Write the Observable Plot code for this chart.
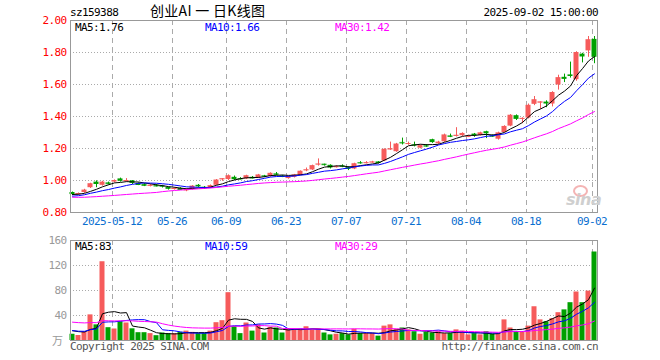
<!DOCTYPE html>
<html><head><meta charset="utf-8">
<script src="https://cdn.jsdelivr.net/npm/d3@7"></script>
<script src="https://cdn.jsdelivr.net/npm/@observablehq/plot@0.6"></script>
<style>
body{margin:0;background:#fff;}
#c{position:relative;width:660px;height:360px;overflow:hidden;font-family:"DejaVu Sans Mono",monospace;font-size:11px;letter-spacing:-0.6px;color:#000;}
#c svg{position:absolute;left:0;}
.t{position:absolute;white-space:nowrap;line-height:12px;}
</style></head><body><div id="c"></div>
<script>
const dates = ["04-28","04-29","04-30","05-06","05-07","05-08","05-09","05-12","05-13","05-14",
"05-15","05-16","05-19","05-20","05-21","05-22","05-23","05-26","05-27","05-28",
"05-29","05-30","06-03","06-04","06-05","06-06","06-09","06-10","06-11","06-12",
"06-13","06-16","06-17","06-18","06-19","06-20","06-23","06-24","06-25","06-26",
"06-27","06-30","07-01","07-02","07-03","07-04","07-07","07-08","07-09","07-10",
"07-11","07-14","07-15","07-16","07-17","07-18","07-21","07-22","07-23","07-24",
"07-25","07-28","07-29","07-30","07-31","08-01","08-04","08-05","08-06","08-07",
"08-08","08-11","08-12","08-13","08-14","08-15","08-18","08-19","08-20","08-21",
"08-22","08-25","08-26","08-27","08-28","08-29","09-01","09-02"];
const open = [0.925,0.912,0.925,0.955,0.990,0.970,0.985,0.990,1.010,0.995,
0.998,0.982,0.976,0.965,0.971,0.966,0.956,0.945,0.950,0.935,
0.945,0.970,0.958,0.955,0.970,1.006,1.006,1.020,1.012,1.010,
1.020,1.015,1.030,1.025,1.042,1.028,1.012,1.020,1.032,1.063,
1.066,1.100,1.102,1.095,1.083,1.092,1.082,1.072,1.112,1.108,
1.112,1.116,1.122,1.193,1.180,1.238,1.228,1.224,1.202,1.218,
1.255,1.230,1.242,1.279,1.278,1.280,1.273,1.290,1.282,1.305,
1.280,1.258,1.300,1.340,1.405,1.385,1.390,1.476,1.486,1.490,
1.478,1.597,1.645,1.660,1.630,1.790,1.810,1.882];
const close = [0.912,0.918,0.940,0.980,0.975,0.990,0.980,1.000,0.995,1.000,
0.982,0.975,0.970,0.970,0.966,0.958,0.945,0.950,0.944,0.945,
0.965,0.960,0.955,0.968,1.003,1.010,1.030,1.005,1.010,1.030,
1.016,1.035,1.028,1.045,1.039,1.025,1.022,1.035,1.058,1.066,
1.093,1.102,1.099,1.078,1.086,1.089,1.076,1.105,1.110,1.111,
1.115,1.106,1.195,1.197,1.228,1.235,1.231,1.221,1.218,1.215,
1.237,1.240,1.285,1.276,1.282,1.294,1.276,1.280,1.298,1.292,
1.277,1.298,1.338,1.408,1.382,1.388,1.470,1.505,1.490,1.478,
1.550,1.643,1.632,1.650,1.800,1.772,1.880,1.770];
const high = [0.928,0.922,0.945,0.983,0.998,0.995,0.990,1.004,1.015,1.012,
1.000,0.985,0.980,0.975,0.975,0.970,0.958,0.955,0.955,0.948,
0.968,0.975,0.962,0.972,1.006,1.012,1.035,1.028,1.018,1.033,
1.025,1.038,1.032,1.048,1.050,1.032,1.026,1.038,1.060,1.078,
1.096,1.135,1.102,1.098,1.092,1.098,1.086,1.108,1.118,1.118,
1.120,1.118,1.198,1.240,1.232,1.265,1.240,1.240,1.222,1.225,
1.258,1.245,1.290,1.290,1.330,1.298,1.282,1.294,1.302,1.308,
1.285,1.302,1.342,1.412,1.410,1.392,1.478,1.525,1.492,1.498,
1.555,1.658,1.665,1.740,1.805,1.795,1.900,1.900];
const low = [0.905,0.908,0.920,0.950,0.955,0.965,0.972,0.985,0.990,0.990,
0.975,0.968,0.962,0.960,0.960,0.953,0.940,0.940,0.938,0.930,
0.940,0.955,0.948,0.950,0.968,0.995,1.000,1.000,1.004,1.006,
1.010,1.012,1.018,1.020,1.030,1.018,1.008,1.016,1.030,1.055,
1.062,1.090,1.090,1.072,1.078,1.080,1.062,1.068,1.102,1.104,
1.108,1.103,1.118,1.188,1.176,1.222,1.220,1.210,1.198,1.208,
1.232,1.225,1.238,1.268,1.272,1.275,1.268,1.270,1.278,1.262,
1.270,1.252,1.298,1.336,1.375,1.355,1.385,1.468,1.445,1.455,
1.460,1.565,1.612,1.640,1.620,1.735,1.770,1.730];
const volume = [10,8,14,41,25,126,20.5,18.4,30,28,
18.7,12.5,12.5,11,7.7,12,11,11,13,15,
13,11,11,15,28.5,31.7,76.5,22,11,28,
15,25,12,21,20,12,19,18,18,22,
17,18,12,9,10,11,9,18,11,11,
11,7,23,25,18,20,17,14,10,13,
12,14,11,11,17,15,9,11,9,14,
10,11,33,20,13,13,23,54,33,30,
35,44.5,49,60.5,77.6,60.5,79,141.6];
// trading days before 04-28 (only feed the moving averages)
const priorClose = [0.93,0.93,0.92,0.92,0.91,0.91,0.92,0.91,0.91,0.90,0.89,0.90,0.90,0.89,
0.81,0.83,0.85,0.86,0.86,0.89,0.89,0.88,0.89,0.90,0.90,0.91,0.91,0.92,0.91];
const priorVolume = [30,28,25,28,30,28,25,22,25,28,30,25,22,25,90,75,60,50,45,30,18,16,15,14,18,15,17,20,16];
const tickDates = ["05-12","05-26","06-09","06-23","07-07","07-21","08-04","08-18","09-02"];
const tickLabels = ["2025-05-12","05-26","06-09","06-23","07-07","07-21","08-04","08-18","09-02"];
const priceTicks = [0.8,1.0,1.2,1.4,1.6,1.8,2.0];
const volTicks = [40,80,120,160];
const maNames = ["MA5","MA10","MA30"];
const maPriceLatest = ["1.76","1.66","1.42"];
const maVolLatest = ["83","59","29"];

const RED = "#f65b5b", GREEN = "#00a000";
const MA_COLORS = ["#000000","#0000ff","#ff00ff"];
const FONT = '"DejaVu Sans Mono", monospace';

function movingAvg(prior, vals, n) {
  const all = prior.concat(vals);
  return vals.map((_, i) => d3.mean(all.slice(prior.length + i - n + 1, prior.length + i + 1)));
}
const pm = [5,10,30].map(n => movingAvg(priorClose, close, n));
const vm = [5,10,30].map(n => movingAvg(priorVolume, volume, n));
const rows = dates.map((d, i) => ({
  i, date: d, o: open[i], h: high[i], l: low[i], c: close[i], v: volume[i],
  col: close[i] >= open[i] ? RED : GREEN,
  ma5: pm[0][i], ma10: pm[1][i], ma30: pm[2][i],
  vma5: vm[0][i], vma10: vm[1][i], vma30: vm[2][i]
}));
const tickIdx = tickDates.map(d => dates.indexOf(d));
const labelOf = new Map(tickIdx.map((k, j) => [k, tickLabels[j]]));
const W = 5/6, MID = 2.5/6;
const xScale = {domain: [0, dates.length], range: [69.5, 597.5], axis: null, label: null};
const common = {
  width: 660, marginLeft: 70, marginRight: 63,
  x: xScale, color: {type: "identity"},
  style: {fontFamily: FONT, fontSize: "11px", letterSpacing: "-0.6px", background: "transparent", overflow: "visible"}
};
const maLines = (keys) => keys.map((k, j) => Plot.line(rows, {x: d => d.i + MID, y: k, stroke: MA_COLORS[j], strokeWidth: 1}));

const price = Plot.plot({
  ...common, height: 232, marginTop: 20, marginBottom: 20,
  y: {domain: [0.8, 2.0], axis: null, label: null},
  marks: [
    Plot.ruleY(priceTicks.slice(1, -1), {stroke: "#aaa", strokeDasharray: "1,2"}),
    Plot.ruleX(tickIdx, {x: d => d, stroke: "#aaa", strokeDasharray: "5,4", dx: 0.5}),
    Plot.ruleX(rows, {x: d => d.i + MID, y1: "l", y2: "h", stroke: "col"}),
    Plot.rect(rows, {x1: "i", x2: d => d.i + W, y1: "o", y2: "c", fill: "col"}),
    Plot.ruleY(rows.filter(d => Math.abs(d.o - d.c) < 0.008), {y: "c", x1: "i", x2: d => d.i + W, stroke: "col"}),
    ...maLines(["ma5", "ma10", "ma30"]),
    Plot.frame({stroke: "#999"}),
    Plot.axisY(priceTicks, {anchor: "left", tickSize: 0, tickPadding: 4, tickFormat: d => d.toFixed(2), fill: "#ff0000", label: null}),
    Plot.axisX(tickIdx, {anchor: "bottom", tickSize: 0, tickPadding: 5, tickFormat: d => labelOf.get(d), fill: "#0a6fd0", label: null})
  ]
});
price.style.top = "0px";

const vol = Plot.plot({
  ...common, height: 128, marginTop: 8, marginBottom: 20,
  y: {domain: [0, 160], axis: null, label: null},
  marks: [
    Plot.ruleY(volTicks.slice(0, -1), {stroke: "#aaa", strokeDasharray: "1,2"}),
    Plot.ruleX(tickIdx, {x: d => d, stroke: "#aaa", strokeDasharray: "5,4", dx: 0.5}),
    Plot.rect(rows, {x1: "i", x2: d => d.i + W, y1: 0, y2: "v", fill: "col"}),
    ...maLines(["vma5", "vma10", "vma30"]),
    Plot.frame({stroke: "#999"}),
    Plot.axisY(volTicks, {anchor: "left", tickSize: 0, tickPadding: 4, fill: "#999", label: null})
  ]
});
vol.style.top = "232px";

const c = document.getElementById("c");
c.appendChild(price);
c.appendChild(vol);
function label(text, css) {
  const s = document.createElement("div");
  s.className = "t"; s.textContent = text;
  Object.assign(s.style, css);
  c.appendChild(s);
  return s;
}
label("sz159388", {left: "70px", top: "7px"});
label("创业AI 一 日K线图", {left: "150px", top: "3px", fontFamily: '"Noto Sans CJK SC", sans-serif', fontSize: "14px", letterSpacing: "0.3px", lineHeight: "15px"});
label("2025-09-02 15:00:00", {right: "62px", top: "7px"});
const lefts = [75, 205, 335];
maNames.forEach((n, j) => {
  label(n + ":" + maPriceLatest[j], {left: lefts[j] + "px", top: "22px", color: MA_COLORS[j]});
  label(n + ":" + maVolLatest[j], {left: lefts[j] + "px", top: "241px", color: MA_COLORS[j]});
});
label("万", {left: "52px", top: "334px", color: "#999", fontFamily: '"Noto Sans CJK SC", sans-serif', fontSize: "11px"});
label("Copyright 2025 SINA.COM", {left: "70px", top: "341px", color: "#555"});
label("http://finance.sina.com.cn", {right: "62px", top: "341px", color: "#555"});
const eye = document.createElement("div");
Object.assign(eye.style, {position: "absolute", left: "573px", top: "185px", width: "11px", height: "8px", border: "2px solid #f4b4b4", borderRadius: "50%"});
c.appendChild(eye);
label("sina", {left: "566px", top: "192px", color: "#cfcfcf", fontFamily: '"DejaVu Sans", sans-serif', fontStyle: "italic", fontWeight: "bold", fontSize: "16px", letterSpacing: "-0.5px", lineHeight: "16px"});
</script></body></html>
